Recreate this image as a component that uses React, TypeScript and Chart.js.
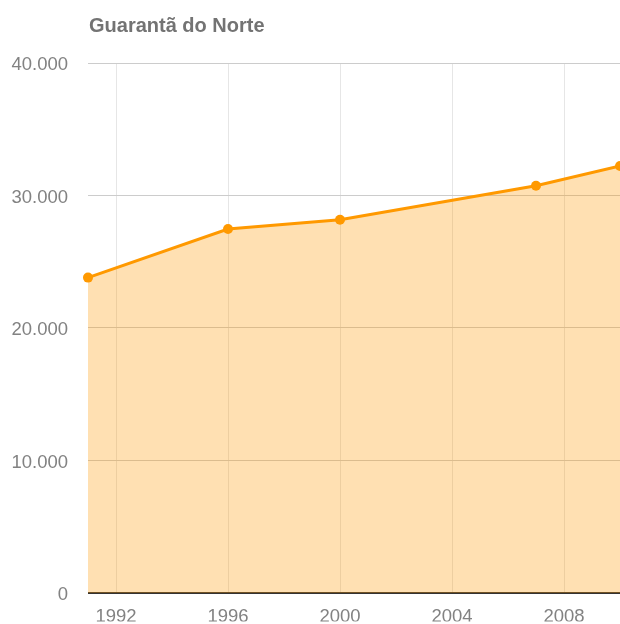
import React, { useEffect, useRef } from 'react';
import { Chart, registerables } from 'chart.js';

Chart.register(...registerables);

const title = 'Guarantã do Norte';
const years = [1991, 1996, 2000, 2007, 2010];
const population = [23800, 27470, 28170, 30730, 32230];
const xTickValues = [1992, 1996, 2000, 2004, 2008];
const yTickValues = [0, 10000, 20000, 30000, 40000];

const FONT = '"Liberation Sans", Arial, sans-serif';

const fmt = (v: number) => String(v).replace(/\B(?=(\d{3})+(?!\d))/g, '.');

const titlePlugin = {
  id: 'customTitle',
  afterDraw(chart: any) {
    const c = chart.ctx;
    c.save();
    c.font = `bold 20px ${FONT}`;
    c.fillStyle = '#737373';
    c.textAlign = 'left';
    c.textBaseline = 'alphabetic';
    c.fillText(title, chart.chartArea.left + 1, 32);
    c.restore();
  },
};

export default function App() {
  const ref = useRef<HTMLCanvasElement | null>(null);

  useEffect(() => {
    document.body.style.margin = '0';
    const canvas = ref.current;
    if (!canvas) return;
    const chart = new Chart(canvas, {
      type: 'line',
      data: {
        datasets: [
          {
            data: years.map((x, i) => ({ x, y: population[i] })),
            borderColor: '#ff9900',
            backgroundColor: 'rgba(255,153,0,0.3)',
            borderWidth: 3,
            fill: 'origin',
            tension: 0,
            pointRadius: 5,
            pointBackgroundColor: '#ff9900',
            pointBorderColor: '#ff9900',
            pointBorderWidth: 0,
            clip: false as any,
          },
        ],
      },
      options: {
        animation: false,
        responsive: false,
        layout: { autoPadding: false, padding: { top: 63, left: 0, right: 0, bottom: 0 } },
        plugins: {
          legend: { display: false },
          tooltip: { enabled: false },
          title: { display: false },
        },
        scales: {
          x: {
            type: 'linear',
            min: 1991,
            max: 2010,
            afterBuildTicks: (s: any) => {
              s.ticks = xTickValues.map((v) => ({ value: v }));
            },
            afterFit: (s: any) => {
              s.height = 28.5;
            },
            ticks: {
              callback: (v: any) => String(v),
              color: '#828282',
              font: { family: FONT, size: 18.5 },
              padding: 13,
              maxRotation: 0,
              autoSkip: false,
            },
            grid: { color: '#e6e6e6', drawTicks: false, lineWidth: 1 },
            border: { display: false },
          },
          y: {
            type: 'linear',
            min: 0,
            max: 40000,
            afterBuildTicks: (s: any) => {
              s.ticks = yTickValues.map((v) => ({ value: v }));
            },
            afterFit: (s: any) => {
              s.width = 88;
            },
            ticks: {
              callback: (v: any) => fmt(Number(v)),
              color: '#828282',
              font: { family: FONT, size: 18.5 },
              padding: 20,
              labelOffset: 2,
            },
            grid: {
              color: (ctx: any) => (ctx.tick && ctx.tick.value === 0 ? '#333333' : '#cccccc'),
              lineWidth: (ctx: any) => (ctx.tick && ctx.tick.value === 0 ? 2 : 1),
              drawTicks: false,
            },
            border: { display: false },
          },
        },
      },
      plugins: [titlePlugin],
    });
    return () => chart.destroy();
  }, []);

  return <canvas ref={ref} width={620} height={624} style={{ display: 'block' }} />;
}
